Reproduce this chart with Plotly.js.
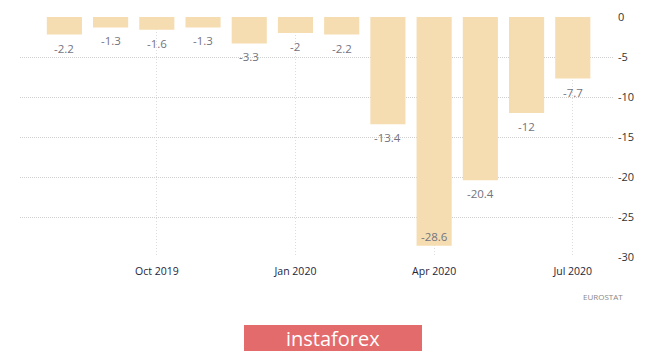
<!DOCTYPE html>
<html><head><meta charset="utf-8">
<script src="https://cdn.plot.ly/plotly-3.0.1.min.js"></script>
<style>html,body{margin:0;padding:0;background:#fff;}#chart{width:665px;height:353px;}</style>
</head><body><div id="chart"></div>
<script>
const months = ["2019-08","2019-09","2019-10","2019-11","2019-12","2020-01","2020-02","2020-03","2020-04","2020-05","2020-06","2020-07"];
const values = [-2.2,-1.3,-1.6,-1.3,-3.3,-2,-2.2,-13.4,-28.6,-20.4,-12,-7.7];
const labels = ["-2.2","-1.3","-1.6","-1.3","-3.3","-2","-2.2","-13.4","-28.6","-20.4","-12","-7.7"];
const tickMonths = ["2019-10","2020-01","2020-04","2020-07"];
const tickLabels = ["Oct 2019","Jan 2020","Apr 2020","Jul 2020"];
const yTicks = [0,-5,-10,-15,-20,-25,-30];
const yMin = -30;

const trace = {
  type:'bar', x:months, y:values,
  marker:{color:'#f5ddb1'},
  hoverinfo:'none'
};
const ann = months.map((m,i)=>{
  const inside = values[i] < yMin + 2.5; // no room below: label sits inside the bar end
  return {
    x:m, y:values[i], xref:'x', yref:'y', text:labels[i], showarrow:false,
    yanchor: inside ? 'bottom' : 'top', yshift: inside ? 0 : -4,
    font:{family:'Open Sans', size:11.5, color:'#737380'}
  };
});
ann.push({xref:'paper', yref:'paper', x:1.02, y:-0.165, xanchor:'right', yanchor:'middle',
  text:'EUROSTAT', showarrow:false, font:{family:'Open Sans', size:8, color:'#888'}});
ann.push({xref:'paper', yref:'paper', x:(333-20)/593, y:-(338-257)/240, xanchor:'center', yanchor:'middle',
  text:'instaforex', showarrow:false, font:{family:'Open Sans', size:20, color:'#fff'}});

const layout = {
  width:665, height:353,
  margin:{l:20, r:52, t:17, b:96},
  paper_bgcolor:'#fff', plot_bgcolor:'#fff',
  showlegend:false, bargap:0.24,
  xaxis:{type:'category', range:[-0.96,11.87], tickvals:tickMonths, ticktext:tickLabels,
    showgrid:true, gridcolor:'#dcdcdc', griddash:'1px,2px', gridwidth:1, zeroline:false, showline:false,
    ticks:'', ticklabelstandoff:6, tickfont:{family:'Open Sans', size:10.5, color:'#25253a'}},
  yaxis:{range:[yMin,0], side:'right', tickvals:yTicks, ticktext:yTicks.map(String),
    showgrid:true, gridcolor:'#cfcfcf', griddash:'1px,1px', gridwidth:1, zeroline:false, showline:false,
    ticks:'', ticklabelstandoff:4, tickfont:{family:'Open Sans', size:11, color:'#333'}},
  annotations:ann,
  shapes:[{type:'rect', xref:'paper', yref:'paper', x0:(244-20)/593, x1:(422-20)/593,
    y0:-(351-257)/240, y1:-(325-257)/240, fillcolor:'#e46b6c', line:{width:0}, layer:'above'}]
};
Plotly.newPlot('chart',[trace],layout,{staticPlot:true, displayModeBar:false});
</script></body></html>
